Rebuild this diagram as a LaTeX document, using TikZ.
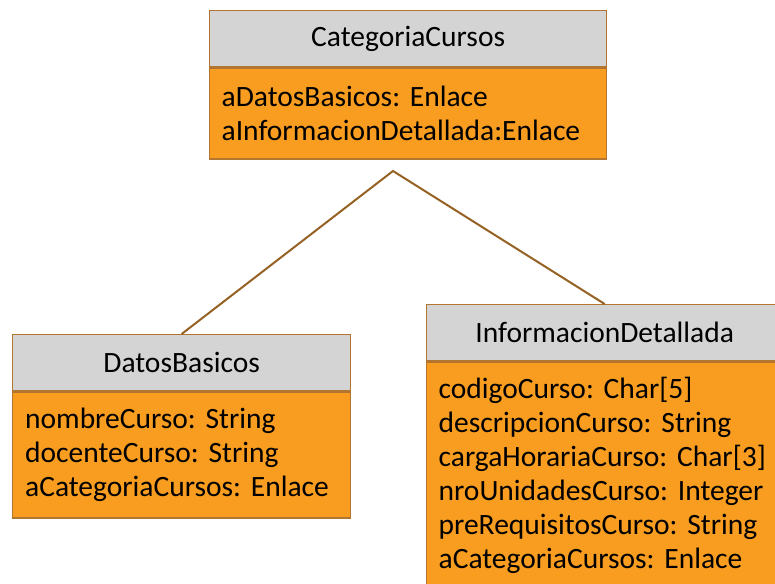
\documentclass[tikz,border=0pt]{standalone}
\usepackage{fontspec}
\setmainfont{Carlito}
\frenchspacing
\definecolor{hdrgray}{RGB}{212,212,212}
\definecolor{bodyorange}{RGB}{248,157,32}
\definecolor{edgebrown}{RGB}{178,118,48}
\definecolor{linkbrown}{RGB}{150,98,36}
\begin{document}
\begin{tikzpicture}[x=1pt,y=-1pt,
  every node/.style={font=\fontsize{29.5}{34}\selectfont, inner sep=0pt},
  hdr/.style={draw=edgebrown, line width=1.3pt, fill=hdrgray, anchor=north west, minimum height=56pt},
  bodybox/.style={draw=edgebrown, line width=1.3pt, fill=bodyorange, anchor=north west, align=left, inner xsep=12pt},
  link/.style={draw=linkbrown, line width=2pt}]
\useasboundingbox (0,0) rectangle (775,583);
\clip (0,0) rectangle (775,583);
\fill[white] (0,0) rectangle (775,583);
% CategoriaCursos
\node[hdr, minimum width=397pt] (catH) at (209,10) {CategoriaCursos};
\node[bodybox, minimum width=397pt, minimum height=91pt, text width=373pt] (catB) at (catH.south west)
  {aDatosBasicos: Enlace\\aInformacionDetallada:Enlace};
% DatosBasicos
\node[hdr, minimum width=338pt] (datH) at (12,334) {DatosBasicos};
\node[bodybox, minimum width=338pt, minimum height=126pt, text width=313pt] (datB) at (datH.south west)
  {nombreCurso: String\\docenteCurso: String\\aCategoriaCursos: Enlace};
% InformacionDetallada
\node[hdr, minimum width=356pt] (infH) at (426,304) {InformacionDetallada};
\node[bodybox, minimum width=356pt, minimum height=226pt, text width=333pt] (infB) at (infH.south west)
  {codigoCurso: Char[5]\\descripcionCurso: String\\cargaHorariaCurso: Char[3]\\nroUnidadesCurso: Integer\\preRequisitosCurso: String\\aCategoriaCursos: Enlace};
% connectors
\coordinate (apex) at (393,171);
\draw[link] (datH.north) -- (apex) -- (infH.north);
\end{tikzpicture}
\end{document}
